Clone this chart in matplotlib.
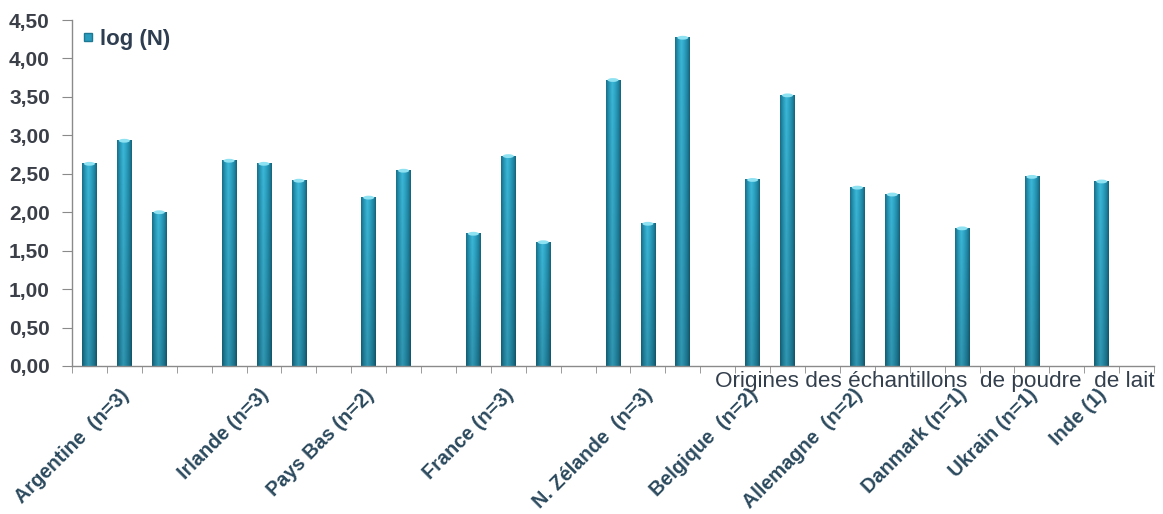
import numpy as np
import matplotlib
matplotlib.use("Agg")
import matplotlib.pyplot as plt
from matplotlib.colors import LinearSegmentedColormap
from matplotlib.lines import Line2D
from matplotlib.patches import Ellipse
from matplotlib.ticker import FuncFormatter, MultipleLocator
import matplotlib.transforms as mtransforms

plt.rcParams['font.family'] = ['Liberation Sans', 'DejaVu Sans']

# origine des echantillons et log(N) de chaque echantillon
pays = ["Argentine  (n=3)", "Irlande (n=3)", "Pays Bas (n=2)", "France (n=3)",
        "N. Zélande  (n=3)", "Belgique  (n=2)", "Allemagne  (n=2)",
        "Danmark (n=1)", "Ukrain (n=1)", "Inde (1)"]
argentine = [2.63, 2.93, 2.00]
irlande = [2.67, 2.63, 2.41]
pays_bas = [2.19, 2.54]
france = [1.72, 2.73, 1.61]
nzelande = [3.72, 1.85, 4.27]
belgique = [2.42, 3.52]
allemagne = [2.32, 2.23]
danmark = [1.79]
ukrain = [2.46]
inde = [2.40]
groupes = [argentine, irlande, pays_bas, france, nzelande,
           belgique, allemagne, danmark, ukrain, inde]

serie = "log (N)"
xlabel = "Origines des échantillons  de poudre  de lait"
ymax = 4.5

# positions : une case vide entre chaque pays
xs, ys, tick_pos = [], [], []
k = 0
for g in groupes:
    tick_pos.append(k + (len(g) - 1) // 2)
    for v in g:
        xs.append(k)
        ys.append(v)
        k += 1
    k += 1
nslots = k - 1

# degrade horizontal pour l'effet cylindre
cmap = LinearSegmentedColormap.from_list("cyl", [
    (0.0, "#1a6f88"), (0.18, "#2594b3"), (0.42, "#3cb8d8"),
    (0.62, "#2ea4c5"), (0.85, "#1f85a2"), (1.0, "#17637a")])
row = cmap(np.linspace(0, 1, 40))[:, :3]
shade = np.linspace(0.82, 1.0, 60)[:, None, None]  # bas plus sombre
grad = row[None, :, :] * shade

fig = plt.figure(figsize=(11.63, 5.14), dpi=100)
ax = fig.add_axes([0.0619, 0.288, 0.9304, 0.673])

w = 0.42
for x, v in zip(xs, ys):
    ax.imshow(grad, extent=(x - w / 2, x + w / 2, 0, v), origin="lower",
              aspect="auto", interpolation="bilinear", zorder=2)
    ax.add_patch(Ellipse((x, v), w * 0.75, 0.05, color="#8ee2f2", zorder=3, lw=0))

ax.set_xlim(-0.5, nslots + 0.5)
ax.set_ylim(0, ymax)

for s in ["top", "right"]:
    ax.spines[s].set_visible(False)
for s in ["left", "bottom"]:
    ax.spines[s].set_color("#8a8a8a")
    ax.spines[s].set_linewidth(1.0)

ax.yaxis.set_major_locator(MultipleLocator(0.5))
ax.yaxis.set_major_formatter(FuncFormatter(lambda v, p: f"{v:.2f}".replace(".", ",")))
ax.tick_params(axis="y", length=7, color="#8a8a8a", labelsize=15,
               labelcolor="#3b3f48", pad=9)
for t in ax.get_yticklabels():
    t.set_fontweight("bold")

ax.set_xticks(np.arange(-0.5, nslots + 1, 1.0), minor=True)
ax.tick_params(axis="x", which="minor", length=5, color="#8a8a8a")
ax.set_xticks(tick_pos)
ax.set_xticklabels(pays, rotation=45, ha="right", fontsize=14.3,
                   fontweight="bold", color="#2c4a5e")
ax.tick_params(axis="x", which="major", length=0, pad=14)
off = mtransforms.ScaledTranslation(9 / 100, 0, fig.dpi_scale_trans)
for t in ax.get_xticklabels():
    t.set_transform(t.get_transform() + off)

ax.text(1.0, -0.014, xlabel, transform=ax.transAxes, ha="right", va="top",
        fontsize=16.2, color="#333f4c")

handle = Line2D([], [], ls="none", marker="s", markersize=5.5,
                markerfacecolor="#2a9cbd", markeredgecolor="#1d7894")
ax.legend([handle], [serie], loc="upper left", bbox_to_anchor=(-0.012, 1.032),
          frameon=False, handletextpad=0.15, handlelength=0.8,
          prop={"weight": "bold", "size": 16}, labelcolor="#2e3e50")

fig.savefig("out.png", dpi=100)
